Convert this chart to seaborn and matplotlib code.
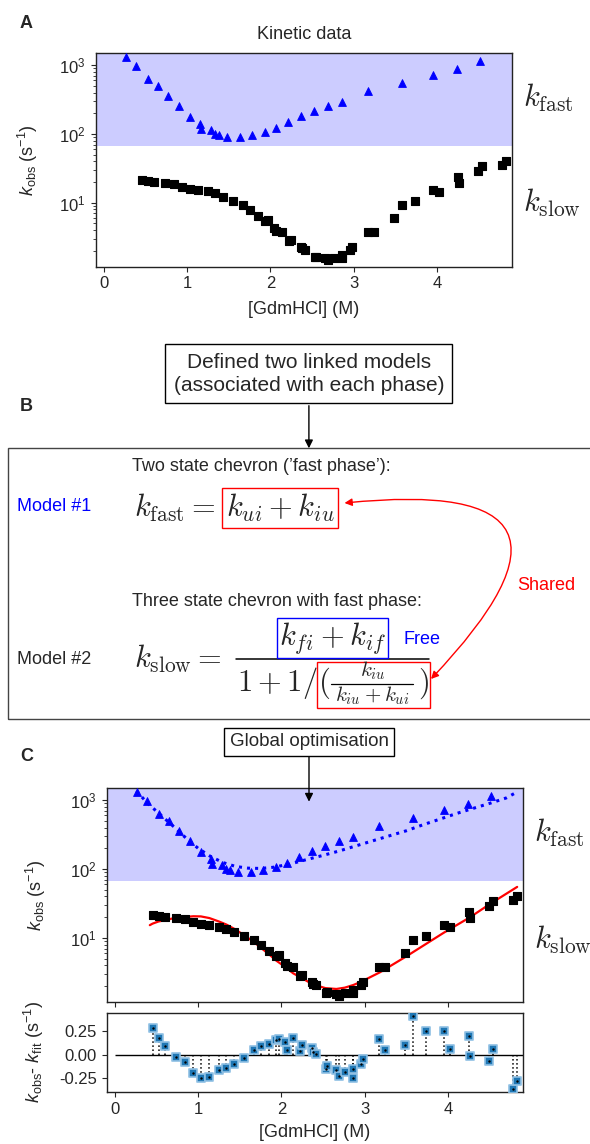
import numpy as np
import pandas as pd
import matplotlib
matplotlib.use("Agg")
from matplotlib import pyplot as plt
from matplotlib.patches import FancyArrowPatch, Rectangle
from matplotlib.lines import Line2D
from matplotlib.ticker import FormatStrFormatter
import seaborn as sns

# fast phase (triangles)
fast_x = [0.264, 0.385, 0.525, 0.645, 0.769, 0.897, 1.030, 1.154, 1.170, 1.290, 1.330, 1.382, 1.474,
          1.631, 1.775, 1.937, 2.063, 2.216, 2.364, 2.528, 2.696, 2.865, 3.173, 3.574, 3.950, 4.240, 4.520]
fast_k = [1337, 978, 640, 500, 361, 256, 179, 140, 117, 115, 100, 96, 89.5,
          91.6, 96, 107, 121, 151, 185, 216, 256, 296, 419, 560, 714, 892, 1155]

# slow phase (squares)
slow_x = [0.453, 0.525, 0.607, 0.740, 0.844, 0.941, 1.033, 1.135, 1.255, 1.340, 1.435, 1.554, 1.667,
          1.750, 1.852, 1.938, 1.968, 2.043, 2.063, 2.140, 2.224, 2.252, 2.372, 2.380, 2.420, 2.534,
          2.552, 2.655, 2.696, 2.758, 2.855, 2.865, 2.955, 2.980, 3.177, 3.243, 3.488, 3.575, 3.738,
          3.948, 4.025, 4.250, 4.260, 4.495, 4.535, 4.785, 4.822]
slow_k = [21.4, 20.7, 20.0, 19.4, 18.7, 16.9, 16.0, 15.3, 14.6, 13.6, 12.2, 10.6, 9.27,
          7.92, 6.48, 5.45, 5.60, 4.30, 3.85, 3.72, 2.79, 2.87, 2.28, 2.17, 2.06, 1.60,
          1.63, 1.54, 1.45, 1.56, 1.72, 1.58, 2.07, 2.26, 3.75, 3.72, 5.93, 9.27, 10.6,
          15.3, 14.3, 23.9, 19.5, 28.9, 34.6, 35.7, 40.5]

# residuals of the global fit
resid = [0.287, 0.177, 0.100, -0.018, -0.073, -0.197, -0.247, -0.238, -0.163, -0.137, -0.101, -0.032, 0.058,
         0.092, 0.117, 0.162, 0.172, 0.135, 0.050, 0.181, 0.039, 0.110, 0.074, 0.032, 0.014, -0.149,
         -0.121, -0.156, -0.220, -0.181, -0.149, -0.245, -0.096, -0.043, 0.174, 0.050, 0.110, 0.415, 0.255,
         0.255, 0.067, 0.202, -0.014, -0.067, 0.067, -0.358, -0.273]

# fitted curves
fastfit_x = [0.26, 0.39, 0.55, 0.70, 0.85, 1.00, 1.15, 1.30, 1.45, 1.60, 1.75, 1.90, 2.10, 2.30,
             2.50, 2.70, 2.90, 3.10, 3.30, 3.50, 3.70, 3.90, 4.10, 4.30, 4.50, 4.70, 4.82]
fastfit_k = [1360, 910, 610, 420, 285, 200, 152, 124, 109, 103, 102, 106, 118, 137,
             158, 184, 218, 258, 305, 360, 440, 530, 640, 760, 900, 1080, 1300]

slowfit_x = [0.42, 0.453, 0.525, 0.607, 0.74, 0.844, 0.941, 1.033, 1.135, 1.255, 1.34, 1.435, 1.554,
             1.667, 1.75, 1.852, 1.94, 2.05, 2.14, 2.24, 2.38, 2.53, 2.66, 2.76, 2.865, 2.955,
             3.18, 3.49, 3.95, 4.26, 4.5, 4.83]
slowfit_k = [15.3, 16.1, 17.3, 18.1, 19.75, 20.1, 20.6, 20.5, 19.4, 17.2, 15.6, 13.5, 10.9,
             8.75, 7.22, 5.77, 4.65, 3.75, 3.06, 2.62, 2.10, 1.86, 1.81, 1.89, 2.07, 2.30,
             3.15, 5.3, 11.9, 19.8, 30.9, 55.0]

sns.set_style("ticks")
plt.rcParams['font.family'] = ['Liberation Sans', 'DejaVu Sans']
plt.rcParams['mathtext.fontset'] = 'custom'
plt.rcParams['mathtext.rm'] = 'Liberation Sans'
plt.rcParams['mathtext.it'] = 'Liberation Sans:italic'
plt.rcParams['mathtext.bf'] = 'Liberation Sans:bold'
plt.rcParams['axes.unicode_minus'] = False
plt.rcParams['xtick.labelsize'] = 12
plt.rcParams['ytick.labelsize'] = 12
plt.rcParams['axes.labelsize'] = 13

W, H = 590, 1144
fig = plt.figure(figsize=(5.9, 11.44), dpi=100)

def P(x, y):
    return (x / W, 1 - y / H)

def box(l, t, r, b):
    return [l / W, 1 - b / H, (r - l) / W, (b - t) / H]

def hline_px(x0, x1, y, **kw):
    fig.lines.append(Line2D([x0 / W, x1 / W], [1 - y / H, 1 - y / H], transform=fig.transFigure, **kw))

def rect_px(l, t, r, b, **kw):
    fig.patches.append(Rectangle(P(l, b), (r - l) / W, (b - t) / H, transform=fig.transFigure,
                                 fill=False, **kw))

axA = fig.add_axes(box(95.5, 52.7, 512, 266.7))
axC = fig.add_axes(box(106.5, 787.7, 523, 1002))
axR = fig.add_axes(box(106.5, 1012.7, 523, 1092))

ylab = r'$k_{\rm obs}$ (s$^{-1}$)'

for ax in (axA, axC):
    ax.set_yscale('log')
    ax.axhspan(66, 1e4, color='blue', alpha=0.2, lw=0, zorder=0)
    sns.scatterplot(x=fast_x, y=fast_k, marker='^', s=32, color='blue', edgecolor='blue',
                    linewidth=0.6, ax=ax, zorder=3)
    sns.scatterplot(x=slow_x, y=slow_k, marker='s', s=30, color='black', edgecolor='black',
                    linewidth=0.8, ax=ax, zorder=3)
    ax.set_xlim(-0.1, 4.9)
    ax.set_ylim(1.17, 1520)
    ax.set_xticks([0, 1, 2, 3, 4])

axA.set_ylabel(ylab, labelpad=14)
axC.set_ylabel(ylab, labelpad=16)

# fits in panel C
sns.lineplot(x=slowfit_x, y=slowfit_k, color='red', lw=1.6, sort=False, estimator=None, ax=axC, zorder=2)
sns.lineplot(x=fastfit_x, y=fastfit_k, color='blue', lw=2.2, linestyle=':', sort=False, estimator=None,
             ax=axC, zorder=4)

axA.set_xlabel('[GdmHCl] (M)', labelpad=7)
axA.set_title('Kinetic data', fontsize=13, pad=10)
axC.set_xlabel('')
axC.tick_params(axis='x', labelbottom=False)

# residuals
axR.hlines(0, 0, 4.9, color='black', lw=1, zorder=1)
axR.vlines(slow_x, 0, resid, colors='black', linestyles=':', lw=1.1, zorder=1)
sns.scatterplot(x=slow_x, y=resid, marker='s', s=30, color='#1f77b4', edgecolor='#8fc0e4',
                linewidth=1.2, ax=axR, zorder=3)
sns.scatterplot(x=slow_x, y=resid, marker='o', s=3, color='black', linewidth=0, ax=axR, zorder=4)
axR.set_xlim(-0.1, 4.9)
axR.set_ylim(-0.394, 0.45)
axR.set_yticks([-0.25, 0, 0.25])
axR.yaxis.set_major_formatter(FormatStrFormatter('%.2f'))
axR.set_xticks([0, 1, 2, 3, 4])
axR.set_xlabel('[GdmHCl] (M)', labelpad=5)
axR.set_ylabel(r'$k_{\rm obs}$- $k_{\rm fit}$ (s$^{-1}$)', labelpad=9)

for ax in (axA, axC, axR):
    for s in ax.spines.values():
        s.set_linewidth(1.0)
        s.set_color('#222222')

# k labels
for (x, y, t) in [(523, 98.3, r'$k_{\rm fast}$'), (523, 203.3, r'$k_{\rm slow}$'),
                  (534, 833.3, r'$k_{\rm fast}$'), (534, 940, r'$k_{\rm slow}$')]:
    fig.text(*P(x, y), t, fontsize=22, math_fontfamily='cm', ha='left', va='center')

# panel letters
for (y, t) in [(23.3, 'A'), (406.7, 'B'), (756.7, 'C')]:
    fig.text(*P(26.3, y), t, fontsize=13, fontweight='bold', ha='center', va='center')

# panel B
rect_px(7.5, 448.3, W + 20, 719, edgecolor='#444444', lw=1)
fig.text(*P(308.9, 373.7), 'Defined two linked models\n(associated with each phase)', fontsize=15,
         ha='center', va='center', multialignment='center', linespacing=1.25,
         bbox=dict(boxstyle='square,pad=0.4', fc='white', ec='black', lw=1))
fig.patches.append(FancyArrowPatch(P(308.9, 405.7), P(308.9, 448.3), transform=fig.transFigure,
                                   arrowstyle='-|>', mutation_scale=12, color='black', lw=1,
                                   shrinkA=0, shrinkB=0))

fig.text(*P(132.4, 466.7), 'Two state chevron (\u2019fast phase\u2019):', fontsize=13, ha='left', va='center')
fig.text(*P(16.6, 506.7), 'Model #1', fontsize=13, color='blue', ha='left', va='center')
fig.text(*P(133.6, 516.7), r'$k_{\rm fast} =$', fontsize=22, math_fontfamily='cm', ha='left', va='baseline')
fig.text(*P(225.7, 516.7), r'$k_{ui} + k_{iu}$', fontsize=22, math_fontfamily='cm', ha='left', va='baseline',
         bbox=dict(boxstyle='square,pad=0.12', fc='none', ec='red', lw=1))

fig.text(*P(132.4, 601.7), 'Three state chevron with fast phase:', fontsize=13, ha='left', va='center')
fig.text(*P(16.6, 660), 'Model #2', fontsize=13, ha='left', va='center')
fig.text(*P(133.6, 667.5), r'$k_{\rm slow} =$', fontsize=22, math_fontfamily='cm', ha='left', va='baseline')
fig.text(*P(332.6, 645), r'$k_{fi} + k_{if}$', fontsize=22, math_fontfamily='cm', ha='center', va='baseline',
         bbox=dict(boxstyle='square,pad=0.06', fc='none', ec='blue', lw=1))
hline_px(235.9, 428.9, 659.3, color='black', lw=1.1)
fig.text(*P(237, 690.7), r'$1 + 1/$', fontsize=22, math_fontfamily='cm', ha='left', va='baseline')
# inner fraction (k_iu / (k_iu + k_ui)) inside the shared box
fig.text(*P(318.5, 691), r'$($', fontsize=22, math_fontfamily='cm', ha='left', va='baseline')
fig.text(*P(418, 691), r'$)$', fontsize=22, math_fontfamily='cm', ha='left', va='baseline')
fig.text(*P(372.5, 676), r'$k_{iu}$', fontsize=15, math_fontfamily='cm', ha='center', va='baseline')
hline_px(331, 413, 683.5, color='black', lw=0.9)
fig.text(*P(372.5, 701.5), r'$k_{iu}+k_{ui}$', fontsize=15, math_fontfamily='cm', ha='center', va='baseline')
rect_px(316.8, 661.7, 430, 707.7, edgecolor='red', lw=1)

fig.text(*P(403.7, 639), 'Free', fontsize=13, color='blue', ha='left', va='center')
fig.text(*P(517.3, 586), 'Shared', fontsize=13, color='red', ha='left', va='center')
fig.patches.append(FancyArrowPatch(P(431, 679), P(344.5, 503), transform=fig.transFigure,
                                   connectionstyle='arc3,rad=1.35', arrowstyle='<|-|>',
                                   mutation_scale=11, color='red', lw=1, shrinkA=0, shrinkB=0))

# panel C header
fig.text(*P(309, 741.7), 'Global optimisation', fontsize=13.5, ha='center', va='center',
         bbox=dict(boxstyle='square,pad=0.3', fc='white', ec='black', lw=1))
fig.patches.append(FancyArrowPatch(P(309, 756.7), P(309, 801.7), transform=fig.transFigure,
                                   arrowstyle='-|>', mutation_scale=12, color='black', lw=1,
                                   shrinkA=0, shrinkB=0, zorder=10))

fig.savefig('out.png', dpi=100)
